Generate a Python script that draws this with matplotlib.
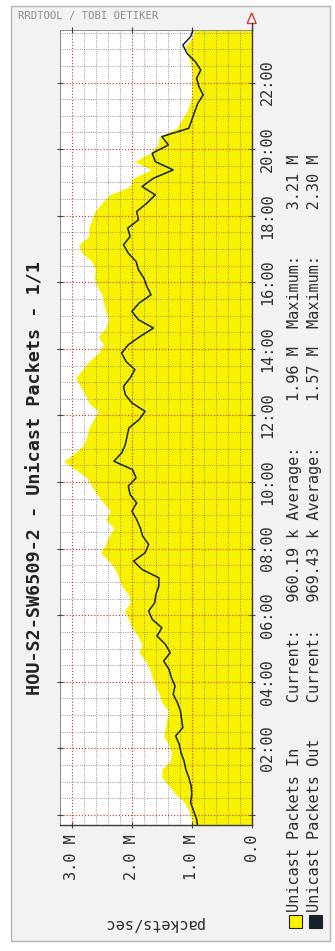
import numpy as np
import matplotlib
matplotlib.use("Agg")
import matplotlib.pyplot as plt
from matplotlib.patches import Rectangle, Polygon
from matplotlib.lines import Line2D
from matplotlib.ticker import MultipleLocator

W, H, DPI = 335, 951, 100
MONO = "DejaVu Sans Mono"

# 15-minute samples, the first one at 23:37:30 of the previous day (hours)
t_start = -0.375
t_step = 0.25

# Unicast packets in, millions of packets/sec
packets_in = [
    0.98, 1.00, 1.05, 1.12, 1.27, 1.38, 1.50, 1.50,
    1.36, 1.34, 1.39, 1.47, 1.44, 1.42, 1.39, 1.50,
    1.54, 1.61, 1.66, 1.70, 1.77, 1.88, 1.83, 1.90,
    2.00, 2.05, 2.12, 2.03, 2.06, 2.17, 2.22, 2.28,
    2.38, 2.52, 2.44, 2.38, 2.30, 2.44, 2.36, 2.47,
    2.58, 2.67, 2.75, 2.94, 3.14, 2.95, 2.80, 2.75,
    2.72, 2.64, 2.56, 2.72, 2.78, 2.86, 2.94, 2.83,
    2.72, 2.56, 2.47, 2.56, 2.44, 2.39, 2.44, 2.47,
    2.50, 2.58, 2.63, 2.61, 2.67, 2.83, 2.89, 2.72,
    2.72, 2.67, 2.62, 2.50, 2.38, 2.03, 1.98, 1.68,
    1.95, 1.70, 1.56, 1.55, 1.25, 1.17, 1.08, 1.03,
    1.00, 1.00, 0.99, 1.00, 1.03, 1.08, 1.10, 0.98,
    0.96019,
]

# Unicast packets out, millions of packets/sec
packets_out = [
    0.90, 0.92, 0.97, 1.02, 1.00, 1.01, 1.05, 1.10,
    1.13, 1.18, 1.21, 1.27, 1.15, 1.17, 1.19, 1.24,
    1.31, 1.28, 1.34, 1.38, 1.47, 1.36, 1.44, 1.58,
    1.50, 1.66, 1.72, 1.62, 1.60, 1.55, 1.55, 1.83,
    1.97, 1.78, 1.72, 1.82, 1.86, 1.92, 2.00, 1.92,
    2.03, 2.06, 1.93, 1.99, 2.30, 2.17, 2.11, 2.08,
    2.05, 1.88, 1.78, 2.00, 2.11, 2.14, 2.03, 1.95,
    2.10, 2.17, 2.06, 1.86, 1.64, 1.89, 2.00, 1.88,
    1.68, 1.75, 1.80, 1.89, 1.93, 2.06, 2.14, 2.03,
    2.07, 1.89, 1.92, 1.75, 1.61, 1.83, 1.64, 1.31,
    1.61, 1.66, 1.39, 1.50, 1.05, 1.00, 0.95, 0.90,
    0.81, 0.88, 0.92, 0.85, 0.94, 1.08, 1.15, 1.02,
    0.96943,
]

value_ticks = [0, 1, 2, 3]
value_labels = ["0.0", "1.0 M", "2.0 M", "3.0 M"]
hour_ticks = [0, 2, 4, 6, 8, 10, 12, 14, 16, 18, 20, 22]
hour_labels = ["", "02:00", "04:00", "06:00", "08:00", "10:00",
               "12:00", "14:00", "16:00", "18:00", "20:00", "22:00"]

title = "HOU-S2-SW6509-2 - Unicast Packets - 1/1"
y_label = "packets/sec"
legend_lines = [
    "Unicast Packets In     Current:   960.19 k Average:     1.96 M  Maximum:     3.21 M",
    "Unicast Packets Out    Current:   969.43 k Average:     1.57 M  Maximum:     2.30 M",
]

IN_COLOR = "#F8F200"
OUT_COLOR = "#14232F"
TEXT_COLOR = "#2E2E2E"

times = t_start + t_step * np.arange(len(packets_in))


def fx(x):
    return x / W


def fy(y):
    return 1 - y / H


fig = plt.figure(figsize=(W / DPI, H / DPI), dpi=DPI, facecolor="white")

# light grey card behind the graph
fig.add_artist(Rectangle((fx(11), fy(941)), (330 - 11) / W, (941 - 6) / H,
                         transform=fig.transFigure, facecolor="#F2F2F2",
                         edgecolor="#B5B5B5", lw=1.0, zorder=0))

ax = fig.add_axes([fx(60), fy(825), (251.7 - 60) / W, (825 - 30) / H])
ax.set_facecolor("white")
ax.set_xlim(3.2, 0)
ax.set_ylim(-0.30, 23.577)

ax.fill_betweenx(times, 0, packets_in, color=IN_COLOR, lw=0, zorder=1)
ax.plot(packets_out, times, color=OUT_COLOR, lw=1.1, zorder=3)

# grid: fine every 0.2 M / 30 min, coarse every 1 M / 2 h
ax.set_axisbelow(False)
ax.xaxis.set_minor_locator(MultipleLocator(0.2))
ax.yaxis.set_minor_locator(MultipleLocator(0.5))
ax.grid(which="minor", color="#7E7E7E", linestyle=(0, (1, 1.6)), lw=0.6)
ax.grid(which="major", color="#C83C3C", linestyle=(0, (1, 1.6)), lw=0.85)

ax.set_xticks(value_ticks, value_labels, rotation=90, fontsize=11,
              family=MONO, color=TEXT_COLOR)
ax.set_yticks(hour_ticks, hour_labels)
ax.tick_params(which="minor", length=0)
ax.tick_params(axis="x", which="major", bottom=True, top=True,
               direction="inout", length=5, width=0.8, color="#404040", pad=4)
ax.tick_params(axis="y", which="major", left=True, right=True,
               labelleft=False, labelright=True, direction="inout",
               length=5, width=0.8, color="#404040", pad=3.5)
for tk in ax.yaxis.get_major_ticks():
    lab = tk.label2
    lab.set_rotation(90)
    lab.set_verticalalignment("center")
    lab.set_horizontalalignment("left")
    lab.set_fontsize(11)
    lab.set_family(MONO)
    lab.set_color(TEXT_COLOR)

for side in ("left", "top"):
    ax.spines[side].set_color("#8C8C8C")
    ax.spines[side].set_linewidth(0.7)
for side in ("right", "bottom"):
    ax.spines[side].set_color("#3A3A3A")
    ax.spines[side].set_linewidth(1.0)

# time axis extends past the plot to an open arrow head
fig.add_artist(Line2D([fx(251.7), fx(251.7)], [fy(30), fy(23)],
                      transform=fig.transFigure, color="#3A3A3A", lw=1.0))
fig.add_artist(Polygon([(fx(251.7), fy(13)), (fx(247.2), fy(23.5)),
                        (fx(256.2), fy(23.5))], closed=True,
                       transform=fig.transFigure, facecolor="white",
                       edgecolor="#E03030", lw=1.0))

# title, value-axis caption and watermark
fig.text(fx(36), fy(478), title, rotation=90, ha="center", va="center",
         fontsize=13.3, fontweight="bold", family=MONO, color="#222222")
fig.text(fx(153), fy(923), y_label, rotation=180, ha="center", va="center",
         fontsize=11, family=MONO, color=TEXT_COLOR)
fig.text(fx(18), fy(15.5), "RRDTOOL / TOBI OETIKER", ha="left", va="center",
         fontsize=7.6, family=MONO, color="#8C8C8C")

# legend: colour boxes and statistics
for xc, color, text in zip((295, 315), (IN_COLOR, OUT_COLOR), legend_lines):
    fig.add_artist(Rectangle((fx(xc - 6.5), fy(928)), 13 / W, 13 / H,
                             transform=fig.transFigure, facecolor=color,
                             edgecolor="#202020", lw=0.8))
    fig.text(fx(xc), fy(912), text, rotation=90, ha="center", va="bottom",
             fontsize=11, family=MONO, color=TEXT_COLOR)

fig.savefig("out.png", dpi=DPI, facecolor=fig.get_facecolor())
